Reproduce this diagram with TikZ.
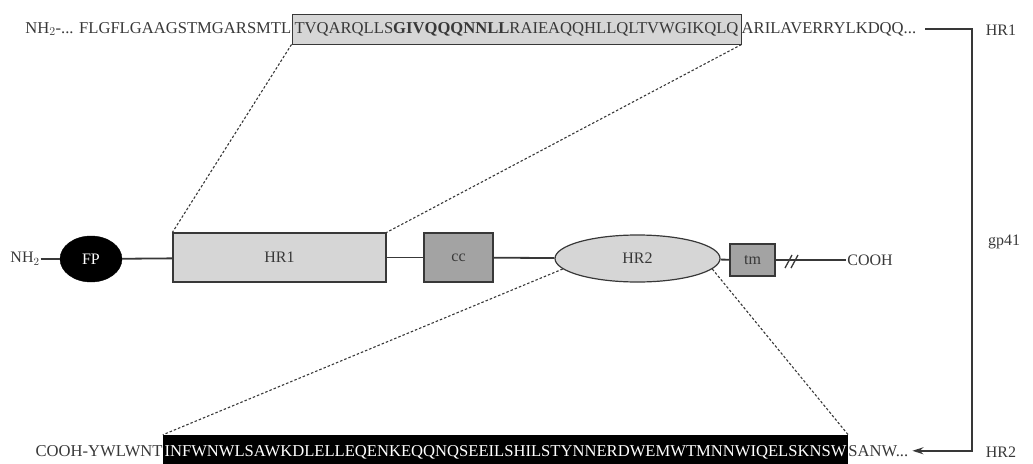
\documentclass[tikz,border=0pt]{standalone}
\usepackage{fontspec}
\setmainfont{Liberation Serif}
\usepackage{tikz}
\usetikzlibrary{arrows.meta,shapes.geometric}

\definecolor{lightgrey}{gray}{0.84}
\definecolor{midgrey}{gray}{0.64}
\definecolor{inkgrey}{gray}{0.22}

\begin{document}
\begin{tikzpicture}[x=1pt,y=-1pt,
	seq/.style={font=\fontsize{16.6}{16.6}\selectfont, text=inkgrey, inner sep=0pt},
	regionbox/.style={draw=inkgrey, line width=1.2pt, font=\fontsize{16}{16}\selectfont, text=inkgrey},
	tagtext/.style={font=\fontsize{16}{16}\selectfont, text=inkgrey, inner sep=1pt},
	zoomline/.style={draw=inkgrey, line width=1.1pt, dash pattern=on 2.5pt off 2pt},
	backbone/.style={draw=inkgrey, line width=1.8pt}]
	\useasboundingbox (0,0) rectangle (1033,463);
	% top sequence with HR1 core
	\node[seq, draw=inkgrey, line width=1pt, fill=lightgrey, minimum width=449pt, minimum height=30pt] (hronebox) at (516.5,29) {TVQARQLLS\textbf{GIVQQQNNLL}RAIEAQQHLLQLTVWGIKQLQ};
	\node[seq, anchor=base east] (toppre) at (hronebox.base west) {NH$_2$-... FLGFLGAAGSTMGARSMTL};
	\node[seq, anchor=base west] (toppost) at (hronebox.base east) {ARILAVERRYLKDQQ...};
	% gp41 domains
	\node[tagtext] (nh) at (25,259) {NH$_2$};
	\node[ellipse, fill=black, draw=black, minimum width=62pt, minimum height=46pt, text=white, font=\fontsize{16}{16}\selectfont] (fp) at (91,259) {FP};
	\node[regionbox, fill=lightgrey, minimum width=213pt, minimum height=49pt] (hrone) at (279.5,257.5) {HR1};
	\node[regionbox, fill=midgrey, minimum width=69pt, minimum height=49pt] (cc) at (458.5,257.5) {cc};
	\node[regionbox, ellipse, fill=lightgrey, minimum width=165pt, minimum height=47pt] (hrtwo) at (637.5,258.5) {HR2};
	\node[regionbox, fill=midgrey, minimum width=45pt, minimum height=32pt] (tm) at (752.5,260) {tm};
	\node[tagtext] (cooh) at (870,260) {COOH};
	\draw[backbone] (nh) -- (fp);
	\draw[backbone] (fp) -- (hrone);
	\draw[backbone] (hrone) -- (cc);
	\draw[backbone] (cc) -- (hrtwo);
	\draw[backbone] (hrtwo) -- (tm);
	\draw[backbone] (tm) -- (cooh);
	\coordinate (cut) at (791,261);
	\draw[backbone, line width=1.3pt] ([shift={(-6,7)}]cut) -- ([shift={(1,-6)}]cut);
	\draw[backbone, line width=1.3pt] ([shift={(0,7)}]cut) -- ([shift={(7,-6)}]cut);
	% bottom sequence with HR2 core
	\node[seq, fill=black, text=white, minimum width=685pt, minimum height=34pt] (hrtwobox) at (505.5,452) {INFWNWLSAWKDLELLEQENKEQQNQSEEILSHILSTYNNERDWEMWTMNNWIQELSKNSW};
	\node[seq, anchor=base east] (botpre) at (hrtwobox.base west) {COOH-YWLWNT};
	\node[seq, anchor=base west] (botpost) at (hrtwobox.base east) {SANW...};
	% zoom lines
	\draw[zoomline] (hronebox.south west) -- (hrone.north west);
	\draw[zoomline] (hronebox.south east) -- (hrone.north east);
	\draw[zoomline] (hrtwo.188) -- (hrtwobox.north west);
	\draw[zoomline] (hrtwo.-8) -- (hrtwobox.north east);
	% bracket
	\coordinate (rail) at (972,242);
	\draw[backbone, -{Stealth[length=11pt,width=7pt]}] ([xshift=9pt]toppost.east) -| (rail) |- ([xshift=4pt]botpost.east);
	\node[tagtext] (hronelab) at (1001,30) {HR1};
	\node[tagtext] (gplab) at (1004,242) {gp41};
	\node[tagtext] (hrtwolab) at (1001,452) {HR2};
\end{tikzpicture}
\end{document}
